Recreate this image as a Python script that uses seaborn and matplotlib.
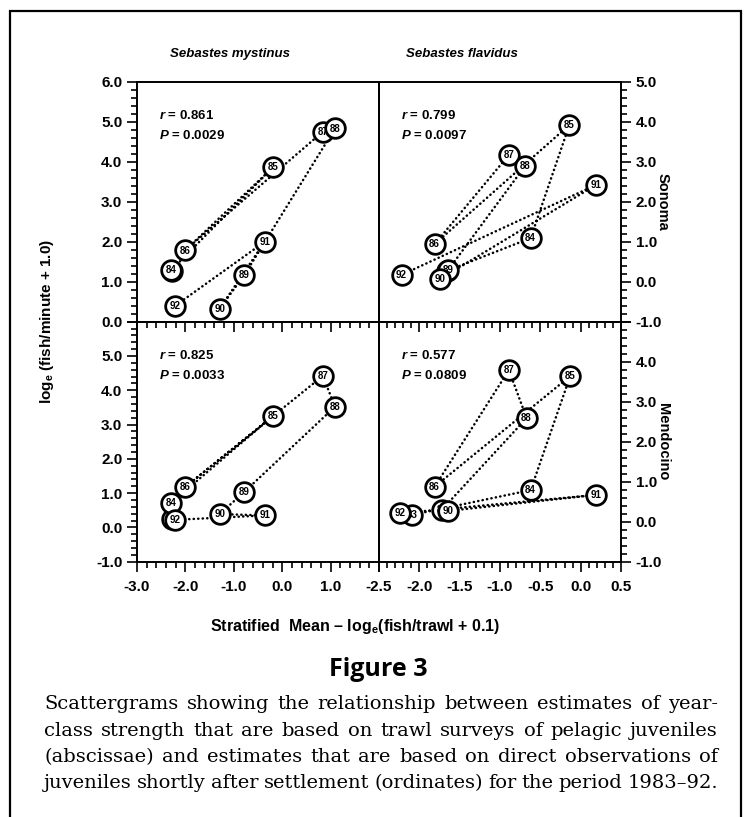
import numpy as np
import pandas as pd
import seaborn as sns
import matplotlib.pyplot as plt
from matplotlib.patches import Rectangle
from matplotlib.ticker import MultipleLocator

sns.set_style("ticks")
plt.rcParams['font.family'] = ['Liberation Sans', 'DejaVu Sans']
plt.rcParams['mathtext.fontset'] = 'custom'
plt.rcParams['mathtext.rm'] = 'Liberation Sans:bold'
plt.rcParams['mathtext.it'] = 'Liberation Sans:italic:bold'
plt.rcParams['text.color'] = 'black'
plt.rcParams['xtick.color'] = 'black'
plt.rcParams['ytick.color'] = 'black'

# year classes 1983-92, labels drawn inside the circles
years = ['83', '84', '85', '86', '87', '88', '89', '90', '91', '92']

# Sebastes mystinus: trawl index (x) and observations (y)
myst_x = [-2.27, -2.29, -0.19, -2.01, 0.84, 1.09, -0.78, -1.29, -0.36, -2.22]
myst_sonoma = [1.27, 1.29, 3.86, 1.78, 4.75, 4.83, 1.17, 0.33, 2.00, 0.39]
myst_mendocino = [0.25, 0.72, 3.25, 1.17, 4.42, 3.52, 1.04, 0.39, 0.35, 0.22]

# Sebastes flavidus
flav_x_sonoma = [-1.66, -0.62, -0.14, -1.81, -0.89, -0.69, -1.64, -1.74, 0.19, -2.22]
flav_sonoma = [0.27, 1.09, 3.92, 0.94, 3.17, 2.89, 0.30, 0.07, 2.42, 0.17]
flav_x_mendocino = [-2.09, -0.62, -0.13, -1.81, -0.89, -0.67, -1.72, -1.64, 0.19, -2.24]
flav_mendocino = [0.17, 0.79, 3.64, 0.875, 3.79, 2.59, 0.30, 0.27, 0.67, 0.21]

stats = {'tl': ('0.861', '0.0029'), 'tr': ('0.799', '0.0097'),
         'bl': ('0.825', '0.0033'), 'br': ('0.577', '0.0809')}

caption = ['Scattergrams showing the relationship between estimates of year-',
           'class strength that are based on trawl surveys of pelagic juveniles',
           '(abscissae) and estimates that are based on direct observations of',
           'juveniles shortly after settlement (ordinates) for the period 1983\u201392.']

W, H = 750, 817
fig = plt.figure(figsize=(7.5, 8.17), dpi=100)
fig.patch.set_facecolor('white')


def box(l, t, r, b):
    return [l / W, 1 - b / H, (r - l) / W, (b - t) / H]


ax_tl = fig.add_axes(box(137, 81.7, 379, 321.7))
ax_tr = fig.add_axes(box(379, 81.7, 621, 321.7))
ax_bl = fig.add_axes(box(137, 321.7, 379, 561.7))
ax_br = fig.add_axes(box(379, 321.7, 621, 561.7))


def draw_panel(ax, xs, ys, key):
    df = pd.DataFrame({'x': xs, 'y': ys, 'year': years})
    sns.lineplot(data=df, x='x', y='y', sort=False, estimator=None, ax=ax,
                 color='black', linestyle=(0, (0.1, 1.7)), linewidth=1.8,
                 dash_capstyle='round', zorder=2)
    for i, row in df.iterrows():
        sns.scatterplot(x=[row.x], y=[row.y], ax=ax, s=200, color='white',
                        edgecolor='black', linewidth=2.0, zorder=3 + 2 * i)
        ax.text(row.x, row.y, row.year, ha='center', va='center', fontsize=7,
                fontweight='bold', zorder=4 + 2 * i)
    r, p = stats[key]
    ax.text(0.09, 0.86, '$r$ = ' + r, transform=ax.transAxes, fontsize=9.5,
            fontweight='bold', va='center')
    ax.text(0.09, 0.775, '$P$ = ' + p, transform=ax.transAxes, fontsize=9.5,
            fontweight='bold', va='center')
    ax.set_xlabel('')
    ax.set_ylabel('')
    ax.set_facecolor('none')
    for s in ax.spines.values():
        s.set_visible(True)
        s.set_linewidth(1.4)
        s.set_color('black')
    ax.tick_params(which='both', direction='out', width=1.2, colors='black', top=False)
    ax.tick_params(which='major', length=7)
    ax.tick_params(which='minor', length=4)
    ax.tick_params(axis='x', which='major', pad=6)


draw_panel(ax_tl, myst_x, myst_sonoma, 'tl')
draw_panel(ax_tr, flav_x_sonoma, flav_sonoma, 'tr')
draw_panel(ax_bl, myst_x, myst_mendocino, 'bl')
draw_panel(ax_br, flav_x_mendocino, flav_mendocino, 'br')

# x axes
for ax in (ax_tl, ax_bl):
    ax.set_xlim(-3, 2)
    ax.xaxis.set_minor_locator(MultipleLocator(0.2))
for ax in (ax_tr, ax_br):
    ax.set_xlim(-2.5, 0.5)
    ax.xaxis.set_minor_locator(MultipleLocator(0.1))
ax_tl.set_xticks(np.arange(-3, 2.1, 1.0), [''] * 6)
ax_tr.set_xticks(np.arange(-2.5, 0.6, 0.5), [''] * 7)
ax_bl.set_xticks(np.arange(-3, 2.1, 1.0), ['-3.0', '-2.0', '-1.0', '0.0', '1.0', ''])
ax_br.set_xticks(np.arange(-2.5, 0.6, 0.5), ['-2.5', '-2.0', '-1.5', '-1.0', '-0.5', '0.0', '0.5'])

# y axes
ax_tl.set_ylim(0, 6)
ax_tl.set_yticks(np.arange(0, 6.1, 1.0), ['%.1f' % v for v in np.arange(0, 6.1, 1.0)])
ax_bl.set_ylim(-1, 6)
ax_bl.set_yticks(np.arange(-1, 6.1, 1.0), ['%.1f' % v for v in np.arange(-1, 5.1, 1.0)] + [''])
ax_tr.set_ylim(-1, 5)
ax_tr.set_yticks(np.arange(-1, 5.1, 1.0), ['%.1f' % v for v in np.arange(-1, 5.1, 1.0)])
ax_br.set_ylim(-1, 5)
ax_br.set_yticks(np.arange(-1, 5.1, 1.0), ['%.1f' % v for v in np.arange(-1, 4.1, 1.0)] + [''])
for ax in (ax_tl, ax_bl, ax_tr, ax_br):
    ax.yaxis.set_minor_locator(MultipleLocator(0.2))
for ax in (ax_tl, ax_bl):
    ax.tick_params(axis='y', which='both', left=True, right=False)
for ax in (ax_tr, ax_br):
    ax.yaxis.tick_right()
    ax.tick_params(axis='y', which='both', left=False, right=True,
                   labelleft=False, labelright=True)
for ax in (ax_tl, ax_bl, ax_tr, ax_br):
    for lab in ax.get_xticklabels() + ax.get_yticklabels():
        lab.set_fontweight('bold')
        lab.set_fontsize(11)

# titles and side labels
fig.text(230 / W, 1 - 54 / H, 'Sebastes mystinus', ha='center', va='center',
         fontsize=9.5, fontweight='bold', style='italic')
fig.text(462 / W, 1 - 54 / H, 'Sebastes flavidus', ha='center', va='center',
         fontsize=9.5, fontweight='bold', style='italic')
fig.text(663 / W, 1 - 201.7 / H, 'Sonoma', rotation=-90, ha='center', va='center',
         fontsize=10.5, fontweight='bold')
fig.text(663 / W, 1 - 441.7 / H, 'Mendocino', rotation=-90, ha='center', va='center',
         fontsize=10.5, fontweight='bold')
fig.text(47 / W, 1 - 321.7 / H, 'log$_\\mathregular{e}$ (fish/minute + 1.0)', rotation=90,
         ha='center', va='center', fontsize=11, fontweight='bold')
fig.text(355 / W, 1 - 627 / H, 'Stratified  Mean \u2013 log$_\\mathregular{e}$(fish/trawl + 0.1)',
         ha='center', va='center', fontsize=11.5, fontweight='bold')

fig.text(378 / W, 1 - 669 / H, 'Figure 3', ha='center', va='center',
         fontsize=18, fontweight='bold', family=['Open Sans', 'DejaVu Sans'])

# caption, justified between x=44 and x=718
renderer = fig.canvas.get_renderer()
left_px, right_px = 44, 718
for i, line in enumerate(caption):
    words = line.split(' ')
    y = 1 - (704 + 26.5 * i) / H
    texts = [fig.text(0, y, w, ha='left', va='center', fontsize=14,
                      family=['DejaVu Serif']) for w in words]
    widths = [t.get_window_extent(renderer).width for t in texts]
    gap = (right_px - left_px - sum(widths)) / (len(words) - 1)
    xpos = left_px
    for t, w in zip(texts, widths):
        t.set_x(xpos / W)
        xpos += w + gap

fig.patches.append(Rectangle((10 / W, -0.05), 731 / W, 1 - 11 / H + 0.05,
                             transform=fig.transFigure, fill=False,
                             edgecolor='black', linewidth=1.6))

fig.savefig('out.png', dpi=100)
